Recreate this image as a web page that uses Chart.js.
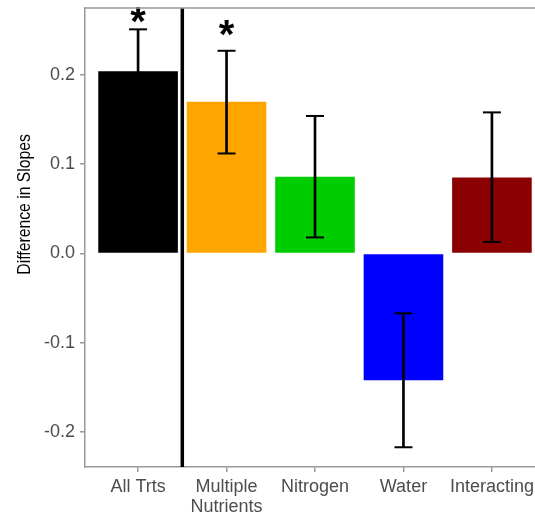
<!DOCTYPE html>
<html>
<head>
<meta charset="utf-8">
<script src="https://cdn.jsdelivr.net/npm/chart.js@4.4.1/dist/chart.umd.min.js"></script>
<style>
html,body{margin:0;padding:0;overflow:hidden;background:#fff;width:535px;height:515px;}
#wrap{width:545px;height:515px;}
</style>
</head>
<body>
<div id="wrap"><canvas id="c" width="545" height="515"></canvas></div>
<script>
// ---- data ----
const categories = [['All Trts'], ['Multiple', 'Nutrients'], ['Nitrogen'], ['Water'], ['Interacting']];
const means = [0.204, 0.170, 0.086, -0.142, 0.085];
const upper = [0.251, 0.227, 0.154, -0.067, 0.158];
const lower = [0.157, 0.112, 0.018, -0.217, 0.013];
const barColors = ['#000000', '#FFA500', '#00CD00', '#0000FF', '#8B0000'];
const sigMarks = ['*', '*', '', '', ''];
const sigY = [0.267, 0.253, null, null, null];
const yTicks = [-0.2, -0.1, 0, 0.1, 0.2];
const yTickLabels = ['-0.2', '-0.1', '0.0', '0.1', '0.2'];
const separatorX = 0.5;
const yTitle = 'Difference in Slopes';

const axisGrey = '#999999';
const tickText = '#4d4d4d';
const baseFont = "'Liberation Sans', Arial, sans-serif";

const borderPlugin = {
  id: 'panelBorder',
  afterDraw(chart) {
    const {ctx, chartArea: a} = chart;
    ctx.save();
    ctx.strokeStyle = axisGrey;
    ctx.lineWidth = 1.5;
    ctx.beginPath();
    ctx.moveTo(a.left, a.top);
    ctx.lineTo(a.right, a.top);
    ctx.lineTo(a.right, a.bottom);
    ctx.stroke();
    ctx.restore();
  }
};

const sigPlugin = {
  id: 'sigMarks',
  afterDatasetsDraw(chart) {
    const {ctx} = chart;
    const xs = chart.scales.x, ys = chart.scales.y;
    ctx.save();
    ctx.fillStyle = '#000';
    ctx.font = "bold 40px " + baseFont;
    ctx.textAlign = 'center';
    ctx.textBaseline = 'alphabetic';
    sigMarks.forEach((m, i) => {
      if (!m) return;
      const px = xs.getPixelForValue(i);
      const py = ys.getPixelForValue(sigY[i]);
      const mt = ctx.measureText(m);
      ctx.fillText(m, px, py + (mt.actualBoundingBoxAscent - mt.actualBoundingBoxDescent) / 2);
    });
    ctx.restore();
  }
};

const titlePlugin = {
  id: 'yTitle',
  afterDraw(chart) {
    const {ctx} = chart;
    const ys = chart.scales.y;
    ctx.save();
    ctx.fillStyle = '#000';
    ctx.font = "18px " + baseFont;
    ctx.textAlign = 'center';
    ctx.textBaseline = 'middle';
    ctx.translate(25, ys.getPixelForValue(0.055));
    ctx.rotate(-Math.PI / 2);
    ctx.scale(0.875, 1);
    ctx.fillText(yTitle, 0, 0);
    ctx.restore();
  }
};

new Chart(document.getElementById('c'), {
  type: 'bar',
  data: {
    datasets: [
      {
        type: 'bar',
        data: means.map((v, i) => ({x: i, y: v})),
        backgroundColor: barColors,
        borderWidth: 0,
        barPercentage: 0.9,
        categoryPercentage: 1,
        grouped: false,
        order: 3
      },
      {
        type: 'bar',
        data: means.map((v, i) => ({x: i, y: [lower[i], upper[i]]})),
        backgroundColor: '#000000',
        borderWidth: 0,
        barThickness: 2,
        grouped: false,
        order: 2
      },
      {
        type: 'scatter',
        data: means.flatMap((v, i) => [{x: i, y: lower[i]}, {x: i, y: upper[i]}]),
        pointStyle: 'line',
        pointRadius: 9,
        pointHoverRadius: 9,
        borderWidth: 2,
        borderColor: '#000000',
        backgroundColor: '#000000',
        order: 1
      },
      {
        type: 'line',
        data: [{x: separatorX, y: -1}, {x: separatorX, y: 1}],
        borderColor: '#000000',
        borderWidth: 3.5,
        pointRadius: 0,
        fill: false,
        order: 0
      }
    ]
  },
  options: {
    responsive: false,
    animation: false,
    events: [],
    layout: {autoPadding: false, padding: {top: 8, left: 0, right: 0, bottom: 0}},
    plugins: {legend: {display: false}, tooltip: {enabled: false}},
    scales: {
      x: {
        type: 'linear',
        min: -0.6,
        max: 4.6,
        offset: false,
        afterBuildTicks: s => { s.ticks = categories.map((_, i) => ({value: i})); },
        afterFit: s => { s.height = 48; s.paddingLeft = 0; s.paddingRight = 0; },
        grid: {offset: false, drawOnChartArea: false, drawTicks: true, tickLength: 5, color: axisGrey, lineWidth: 1.5},
        border: {display: true, color: axisGrey, width: 1.5},
        ticks: {
          autoSkip: false,
          maxRotation: 0,
          minRotation: 0,
          padding: 5,
          color: tickText,
          font: {family: baseFont, size: 18, lineHeight: 1.1},
          callback: v => categories[Math.round(v)]
        }
      },
      y: {
        type: 'linear',
        min: -0.2391,
        max: 0.2749,
        afterBuildTicks: s => { s.ticks = yTicks.map(v => ({value: v})); },
        afterFit: s => { s.width = 85; s.paddingTop = 0; s.paddingBottom = 0; },
        grid: {drawOnChartArea: false, drawTicks: true, tickLength: 5, color: axisGrey, lineWidth: 1.5},
        border: {display: true, color: axisGrey, width: 1.5},
        ticks: {
          padding: 5,
          color: tickText,
          font: {family: baseFont, size: 18},
          callback: (v, i) => yTickLabels[i]
        }
      }
    }
  },
  plugins: [borderPlugin, sigPlugin, titlePlugin]
});
</script>
</body>
</html>
